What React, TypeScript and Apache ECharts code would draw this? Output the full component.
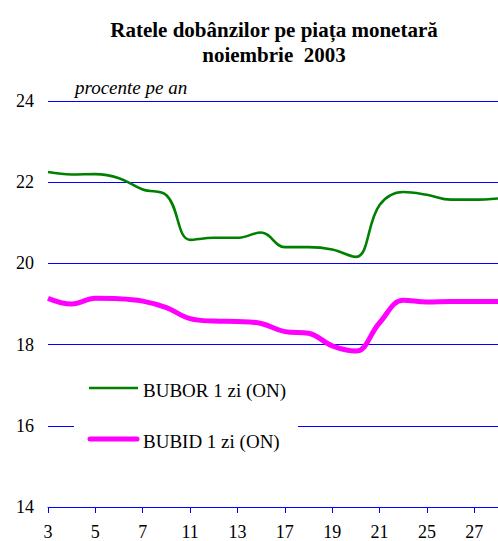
import React, { useEffect, useRef } from "react";
import * as echarts from "echarts";

const days = ["3", "4", "5", "6", "7", "10", "11", "12", "13", "14", "17", "18", "19", "20", "21", "24", "25", "26", "27", "28"];
const bubor = [22.25, 22.19, 22.2, 22.1, 21.82, 21.68, 20.58, 20.63, 20.63, 20.76, 20.4, 20.4, 20.34, 20.16, 21.44, 21.76, 21.69, 21.57, 21.57, 21.6];
const bubid = [19.14, 19.0, 19.14, 19.13, 19.07, 18.91, 18.64, 18.58, 18.57, 18.52, 18.32, 18.28, 17.97, 17.84, 18.54, 19.09, 19.05, 19.06, 19.06, 19.06];
const yTicks = { min: 14, max: 24, interval: 2 };
const seriesNames = ["BUBOR 1 zi (ON)", "BUBID 1 zi (ON)"];
const titleLines = ["Ratele dobânzilor pe piața monetară", "noiembrie  2003"];
const unitLabel = "procente pe an";

const FONT = "Liberation Serif";
const BLUE = "#0000ff";

export default function App() {
  const ref = useRef<HTMLDivElement>(null);
  useEffect(() => {
    if (!ref.current) return;
    const chart = echarts.init(ref.current, null, { renderer: "svg" });
    chart.setOption({
      animation: false,
      backgroundColor: "#ffffff",
      textStyle: { fontFamily: FONT },
      title: {
        text: titleLines.join("\n"),
        left: 274,
        top: 17,
        textAlign: "center",
        padding: 0,
        textStyle: {
          fontFamily: FONT,
          fontWeight: "bold",
          fontSize: 21,
          lineHeight: 25,
          color: "#000",
        },
      },
      grid: { left: 48, top: 101, bottom: 33, right: -6, containLabel: false },
      xAxis: {
        type: "category",
        data: days,
        boundaryGap: false,
        axisLine: { lineStyle: { color: BLUE, width: 1 } },
        axisTick: { interval: 1, length: 6, lineStyle: { color: BLUE } },
        axisLabel: {
          interval: 1,
          margin: 16,
          fontFamily: FONT,
          fontSize: 18,
          color: "#000",
        },
        splitLine: { show: false },
      },
      yAxis: {
        type: "value",
        min: yTicks.min,
        max: yTicks.max,
        interval: yTicks.interval,
        axisLine: { show: false },
        axisTick: { show: false },
        axisLabel: { margin: 14, fontFamily: FONT, fontSize: 18, color: "#000" },
        splitLine: { lineStyle: { color: BLUE, width: 1 } },
      },
      series: [
        {
          name: seriesNames[0],
          type: "line",
          data: bubor,
          smooth: 0.4,
          showSymbol: false,
          symbol: "none",
          lineStyle: { color: "#008000", width: 2.6 },
          z: 3,
        },
        {
          name: seriesNames[1],
          type: "line",
          data: bubid,
          smooth: 0.4,
          showSymbol: false,
          symbol: "none",
          lineStyle: { color: "#ff00ff", width: 5 },
          z: 3,
        },
      ],
      graphic: [
        {
          type: "text",
          left: 75,
          top: 78,
          style: {
            text: unitLabel,
            fontFamily: FONT,
            fontStyle: "italic",
            fontSize: 19,
            fill: "#000",
          },
          z: 10,
        },
        {
          type: "rect",
          shape: { x: 74, y: 365, width: 224, height: 90 },
          style: { fill: "#ffffff" },
          z: 10,
        },
        {
          type: "line",
          shape: { x1: 89, y1: 388, x2: 138, y2: 388 },
          style: { stroke: "#008000", lineWidth: 2.6 },
          z: 11,
        },
        {
          type: "text",
          x: 143,
          y: 390,
          style: {
            text: seriesNames[0],
            fontFamily: FONT,
            fontSize: 19,
            fill: "#000",
            verticalAlign: "middle",
          },
          z: 11,
        },
        {
          type: "line",
          shape: { x1: 90, y1: 439, x2: 137, y2: 439 },
          style: { stroke: "#ff00ff", lineWidth: 5, lineCap: "round" },
          z: 11,
        },
        {
          type: "text",
          x: 143,
          y: 441,
          style: {
            text: seriesNames[1],
            fontFamily: FONT,
            fontSize: 19,
            fill: "#000",
            verticalAlign: "middle",
          },
          z: 11,
        },
      ],
    });
    return () => chart.dispose();
  }, []);
  return (
    <div
      ref={ref}
      style={{ position: "absolute", left: 0, top: 0, width: 498, height: 541 }}
    />
  );
}
